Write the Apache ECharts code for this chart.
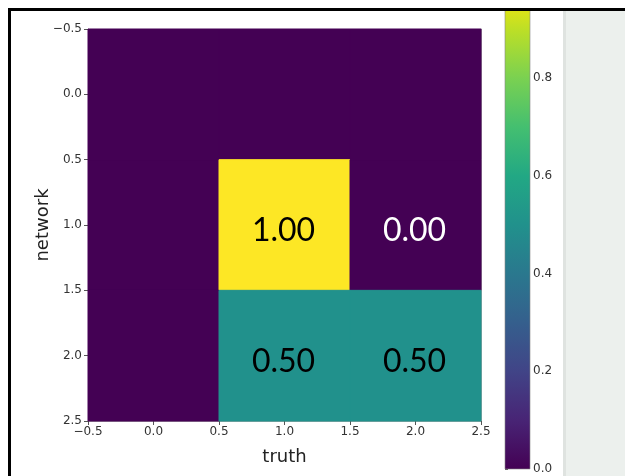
<!DOCTYPE html>
<html>
<head>
<meta charset="utf-8">
<script src="https://cdn.jsdelivr.net/npm/echarts@6/dist/echarts.min.js"></script>
<style>
  html, body { margin: 0; padding: 0; background: #ffffff; }
  #chart { width: 625px; height: 476px; }
</style>
</head>
<body>
<div id="chart"></div>
<script>
// Confusion-style matrix: rows = network, columns = truth
const truthIdx = [0, 1, 2];
const networkIdx = [0, 1, 2];
const matrix = [
  [0.00, 0.00, 0.00],
  [0.00, 1.00, 0.00],
  [0.00, 0.50, 0.50]
];
// Cells that carry a printed value
const annotatedCells = [[1, 1], [2, 1], [1, 2], [2, 2]];
const colorbarTicks = [0.0, 0.2, 0.4, 0.6, 0.8];
const colorbarRange = [0, 0.94];

const viridis = ['#440154', '#482475', '#414487', '#355f8d', '#2a788e',
                 '#21918c', '#22a884', '#44bf70', '#7ad151', '#bddf26', '#fde725'];

const cellData = [];
networkIdx.forEach(function (r) {
  truthIdx.forEach(function (c) {
    const ann = annotatedCells.some(function (p) { return p[0] === c && p[1] === r; });
    cellData.push({ value: [c, r, matrix[r][c]], label: ann ? matrix[r][c].toFixed(2) : '' });
  });
});

function fmtTick(v) {
  return v.toFixed(1).replace('-', '\u2212');
}

const tickFont = { fontFamily: 'DejaVu Sans', fontSize: 12, color: '#333333' };
const spine = { show: true, onZero: false, lineStyle: { color: '#aaaaaa', width: 1 } };

const chart = echarts.init(document.getElementById('chart'), null, { renderer: 'canvas' });

const cbStops = viridis.map(function (col, i) {
  return { offset: i / (viridis.length - 1), color: col };
});

chart.setOption({
  animation: false,
  backgroundColor: '#ffffff',
  graphic: [
    { type: 'rect', z: -10, shape: { x: 563, y: 11, width: 62, height: 465 },
      style: { fill: '#ecf0ed' } },
    { type: 'rect', z: -9, shape: { x: 563, y: 11, width: 3, height: 465 },
      style: { fill: '#dfe3e0' } },
    { type: 'rect', z: 100, shape: { x: 9.5, y: 9.5, width: 640, height: 500 },
      style: { fill: null, stroke: '#000000', lineWidth: 3 } }
  ],
  visualMap: {
    show: false,
    type: 'continuous',
    seriesIndex: 0,
    dimension: 2,
    min: 0,
    max: 1,
    inRange: { color: viridis }
  },
  grid: [
    { left: 88, top: 29, width: 393, height: 392, show: false },
    { left: 505, top: 10, width: 25, height: 459, show: false }
  ],
  xAxis: [
    {
      gridIndex: 0, type: 'value', min: -0.5, max: 2.5, interval: 0.5,
      position: 'bottom',
      name: 'truth', nameLocation: 'middle', nameGap: 27, nameMoveOverlap: false,
      nameTextStyle: { fontFamily: 'DejaVu Sans', fontSize: 18, color: '#222222' },
      axisLine: spine,
      axisTick: { show: true, length: 4, lineStyle: { color: '#555555' } },
      axisLabel: Object.assign({ margin: 5, formatter: fmtTick }, tickFont),
      splitLine: { show: false }
    },
    {
      gridIndex: 0, type: 'value', min: -0.5, max: 2.5, position: 'top',
      axisLine: spine, axisTick: { show: false }, axisLabel: { show: false },
      splitLine: { show: false }
    },
    {
      gridIndex: 1, type: 'value', min: 0, max: 1, show: false
    }
  ],
  yAxis: [
    {
      gridIndex: 0, type: 'value', min: -0.5, max: 2.5, interval: 0.5, inverse: true,
      position: 'left',
      name: 'network', nameLocation: 'middle', nameGap: 36, nameRotate: 90,
      nameMoveOverlap: false,
      nameTextStyle: { fontFamily: 'DejaVu Sans', fontSize: 18, color: '#222222' },
      axisLine: spine,
      axisTick: { show: true, length: 4, lineStyle: { color: '#555555' } },
      axisLabel: Object.assign({ margin: 6, formatter: fmtTick }, tickFont),
      splitLine: { show: false }
    },
    {
      gridIndex: 0, type: 'value', min: -0.5, max: 2.5, inverse: true, position: 'right',
      axisLine: spine, axisTick: { show: false }, axisLabel: { show: false },
      splitLine: { show: false }
    },
    {
      gridIndex: 1, type: 'value', min: colorbarRange[0], max: colorbarRange[1],
      position: 'right',
      axisLine: { show: false },
      axisTick: { show: true, length: 3, customValues: colorbarTicks, lineStyle: { color: '#555555' } },
      axisLabel: Object.assign({ margin: 3, customValues: colorbarTicks,
        formatter: function (v) { return v.toFixed(1); } }, tickFont),
      splitLine: { show: false }
    }
  ],
  series: [
    {
      type: 'custom',
      xAxisIndex: 0, yAxisIndex: 0,
      data: cellData,
      encode: { x: 0, y: 1 },
      renderItem: function (params, api) {
        const c = api.value(0), r = api.value(1), v = api.value(2);
        const p0 = api.coord([c - 0.5, r - 0.5]);
        const p1 = api.coord([c + 0.5, r + 0.5]);
        const item = cellData[params.dataIndex];
        const col = api.visual('color');
        const children = [{
          type: 'rect',
          shape: { x: p0[0], y: p0[1], width: p1[0] - p0[0], height: p1[1] - p0[1] },
          style: { fill: col, stroke: col, lineWidth: 1 }
        }];
        if (item.label) {
          children.push({
            type: 'text',
            x: (p0[0] + p1[0]) / 2 - 1,
            y: (p0[1] + p1[1]) / 2 + 6,
            style: {
              text: item.label,
              fontFamily: 'Lato',
              fontSize: 32,
              fill: v < 0.5 ? '#ffffff' : '#000000',
              align: 'center',
              verticalAlign: 'middle'
            }
          });
        }
        return { type: 'group', children: children };
      }
    },
    {
      type: 'custom',
      xAxisIndex: 2, yAxisIndex: 2,
      data: [[0, colorbarRange[0], colorbarRange[1]]],
      renderItem: function (params, api) {
        const lo = api.coord([0, api.value(1)]);
        const hi = api.coord([1, api.value(2)]);
        const h = lo[1] - hi[1];
        const frac = api.value(2) - api.value(1);
        const stops = [];
        cbStops.forEach(function (s) {
          if (s.offset <= frac) stops.push({ offset: 1 - s.offset / frac, color: s.color });
        });
        stops.push({ offset: 0, color: '#dde318' });
        stops.sort(function (a, b) { return a.offset - b.offset; });
        return {
          type: 'rect',
          shape: { x: lo[0], y: hi[1], width: hi[0] - lo[0], height: h },
          style: {
            fill: new echarts.graphic.LinearGradient(0, 0, 0, 1, stops),
            stroke: '#888888', lineWidth: 0.6
          }
        };
      }
    }
  ]
});
</script>
</body>
</html>
